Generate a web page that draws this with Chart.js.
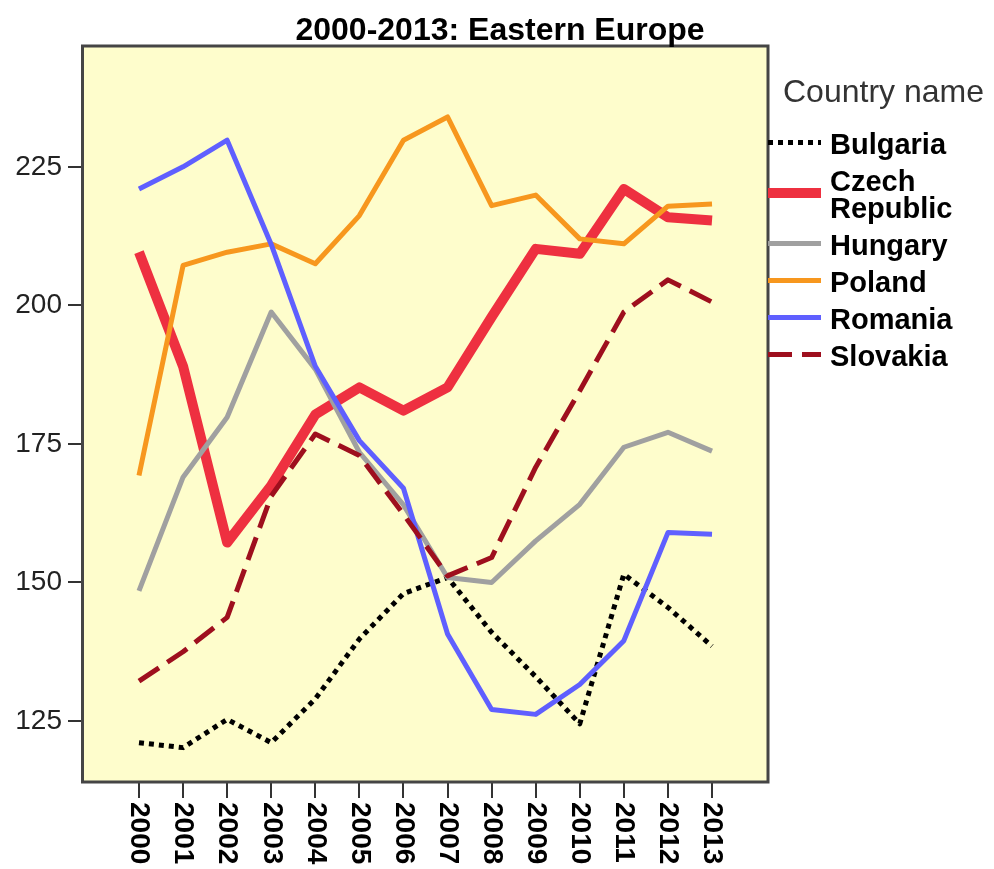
<!DOCTYPE html>
<html>
<head>
<meta charset="utf-8">
<script src="https://cdn.jsdelivr.net/npm/chart.js@4.4.1/dist/chart.umd.min.js"></script>
<style>
  html, body { margin: 0; padding: 0; background: #fff; }
</style>
</head>
<body>
<canvas id="myChart" width="994" height="869"></canvas>
<script>
const years = [2000, 2001, 2002, 2003, 2004, 2005, 2006, 2007, 2008, 2009, 2010, 2011, 2012, 2013];
const yTicks = [125, 150, 175, 200, 225];

const bulgaria = [121.1, 120.2, 125.3, 121.1, 129, 139.8, 148, 150.9, 141, 133, 124.5, 151.5, 145.5, 138.5];
const czech = [209.6, 189, 157.2, 167.5, 180.3, 185.2, 181, 185.2, 197.9, 210.2, 209.3, 221, 215.9, 215.3];
const hungary = [148.5, 169, 179.8, 198.8, 188.5, 173.5, 164, 150.9, 150, 157.5, 164.1, 174.4, 177.1, 173.7];
const poland = [169.3, 207.2, 209.6, 211.1, 207.5, 216.2, 229.8, 234, 218, 219.9, 212, 211.1, 217.9, 218.3];
const romania = [221, 225, 229.8, 211, 189, 175.6, 167, 140.7, 127.1, 126.2, 131.6, 139.5, 159, 158.7];
const slovakia = [132.2, 137.5, 143.7, 165.6, 176.8, 172.9, 162.3, 151.2, 154.5, 170.8, 184.6, 198.8, 204.6, 200.6];

const font = "'Liberation Sans', Arial, sans-serif";

function pts(arr) {
  return years.map((x, i) => ({ x: x, y: arr[i] }));
}

function line(label, arr, color, width, dash) {
  return {
    label: label,
    data: pts(arr),
    borderColor: color,
    borderWidth: width,
    borderDash: dash,
    borderCapStyle: "butt",
    borderJoinStyle: "round",
    pointRadius: 0,
    fill: false,
    tension: 0,
  };
}

const datasets = [
  line("Bulgaria", bulgaria, "#000000", 5, [5, 5]),
  line(["Czech", "Republic"], czech, "#EE3040", 10, []),
  line("Hungary", hungary, "#A0A0A0", 5, []),
  line("Poland", poland, "#F7971E", 5, []),
  line("Romania", romania, "#5F5FFF", 5, []),
  line("Slovakia", slovakia, "#9E0F1E", 5, [24, 10]),
];
// later series drawn on top
datasets.forEach((d, i) => { d.order = datasets.length - i; });

const decor = {
  id: "decor",
  beforeDraw(chart) {
    const { ctx, chartArea: a } = chart;
    ctx.save();
    ctx.fillStyle = "#FEFDCC";
    ctx.fillRect(a.left, a.top, a.right - a.left, a.bottom - a.top);
    ctx.restore();
  },
  afterDraw(chart) {
    const { ctx, chartArea: a } = chart;
    ctx.save();

    // frame
    ctx.strokeStyle = "#454545";
    ctx.lineWidth = 3;
    ctx.strokeRect(a.left - 0.5, a.top, a.right - a.left + 0.5, a.bottom - a.top);

    // title
    ctx.fillStyle = "#000";
    ctx.font = "bold 32px " + font;
    ctx.textAlign = "center";
    ctx.textBaseline = "middle";
    ctx.fillText("2000-2013: Eastern Europe", 500, 31);

    // rotated year labels
    const xs = chart.scales.x;
    ctx.font = "bold 28px " + font;
    ctx.textAlign = "left";
    xs.ticks.forEach((t) => {
      const px = xs.getPixelForValue(t.value);
      ctx.save();
      ctx.translate(px, a.bottom + 20);
      ctx.rotate(Math.PI / 2);
      ctx.fillText(String(t.value), 0, 0);
      ctx.restore();
    });

    // legend
    ctx.font = "32px " + font;
    ctx.fillStyle = "#333";
    ctx.fillText("Country name", 783, 93);

    let top = 124;
    chart.data.datasets.forEach((d) => {
      const lines = Array.isArray(d.label) ? d.label : [d.label];
      const h = 37 + 27 * (lines.length - 1);
      const cy = top + h / 2;
      ctx.beginPath();
      ctx.strokeStyle = d.borderColor;
      ctx.lineWidth = d.borderWidth;
      ctx.setLineDash(d.borderDash);
      ctx.lineCap = "butt";
      ctx.moveTo(768, cy);
      ctx.lineTo(821, cy);
      ctx.stroke();
      ctx.setLineDash([]);
      ctx.fillStyle = "#000";
      ctx.font = "bold 29px " + font;
      lines.forEach((s, k) => {
        ctx.fillText(s, 830, cy + 3 + (k - (lines.length - 1) / 2) * 27);
      });
      top += h;
    });

    ctx.restore();
  },
};

const config = {
  type: "line",
  data: { datasets: datasets },
  options: {
    responsive: false,
    animation: false,
    layout: { padding: { top: 46, right: 226, left: 0, bottom: 0 } },
    plugins: {
      legend: { display: false },
      title: { display: false },
      tooltip: { enabled: false },
    },
    scales: {
      x: {
        type: "linear",
        min: 1998.73,
        max: 2014.27,
        afterBuildTicks: (scale) => {
          scale.ticks = years.map((v) => ({ value: v }));
        },
        afterFit: (scale) => {
          scale.height = 87;
        },
        grid: { drawOnChartArea: false, drawTicks: true, tickLength: 16, color: "#333", lineWidth: 2 },
        border: { display: false },
        ticks: { display: false },
      },
      y: {
        type: "linear",
        min: 114,
        max: 246.8,
        afterBuildTicks: (scale) => {
          scale.ticks = yTicks.map((v) => ({ value: v }));
        },
        afterFit: (scale) => {
          scale.width = 83;
        },
        grid: { drawOnChartArea: false, drawTicks: true, tickLength: 15, color: "#333", lineWidth: 2 },
        border: { display: false },
        ticks: {
          font: { family: font, size: 28 },
          color: "#222",
          padding: 6,
        },
      },
    },
  },
  plugins: [decor],
};

const myChart = new Chart(document.getElementById("myChart").getContext("2d"), config);
</script>
</body>
</html>
